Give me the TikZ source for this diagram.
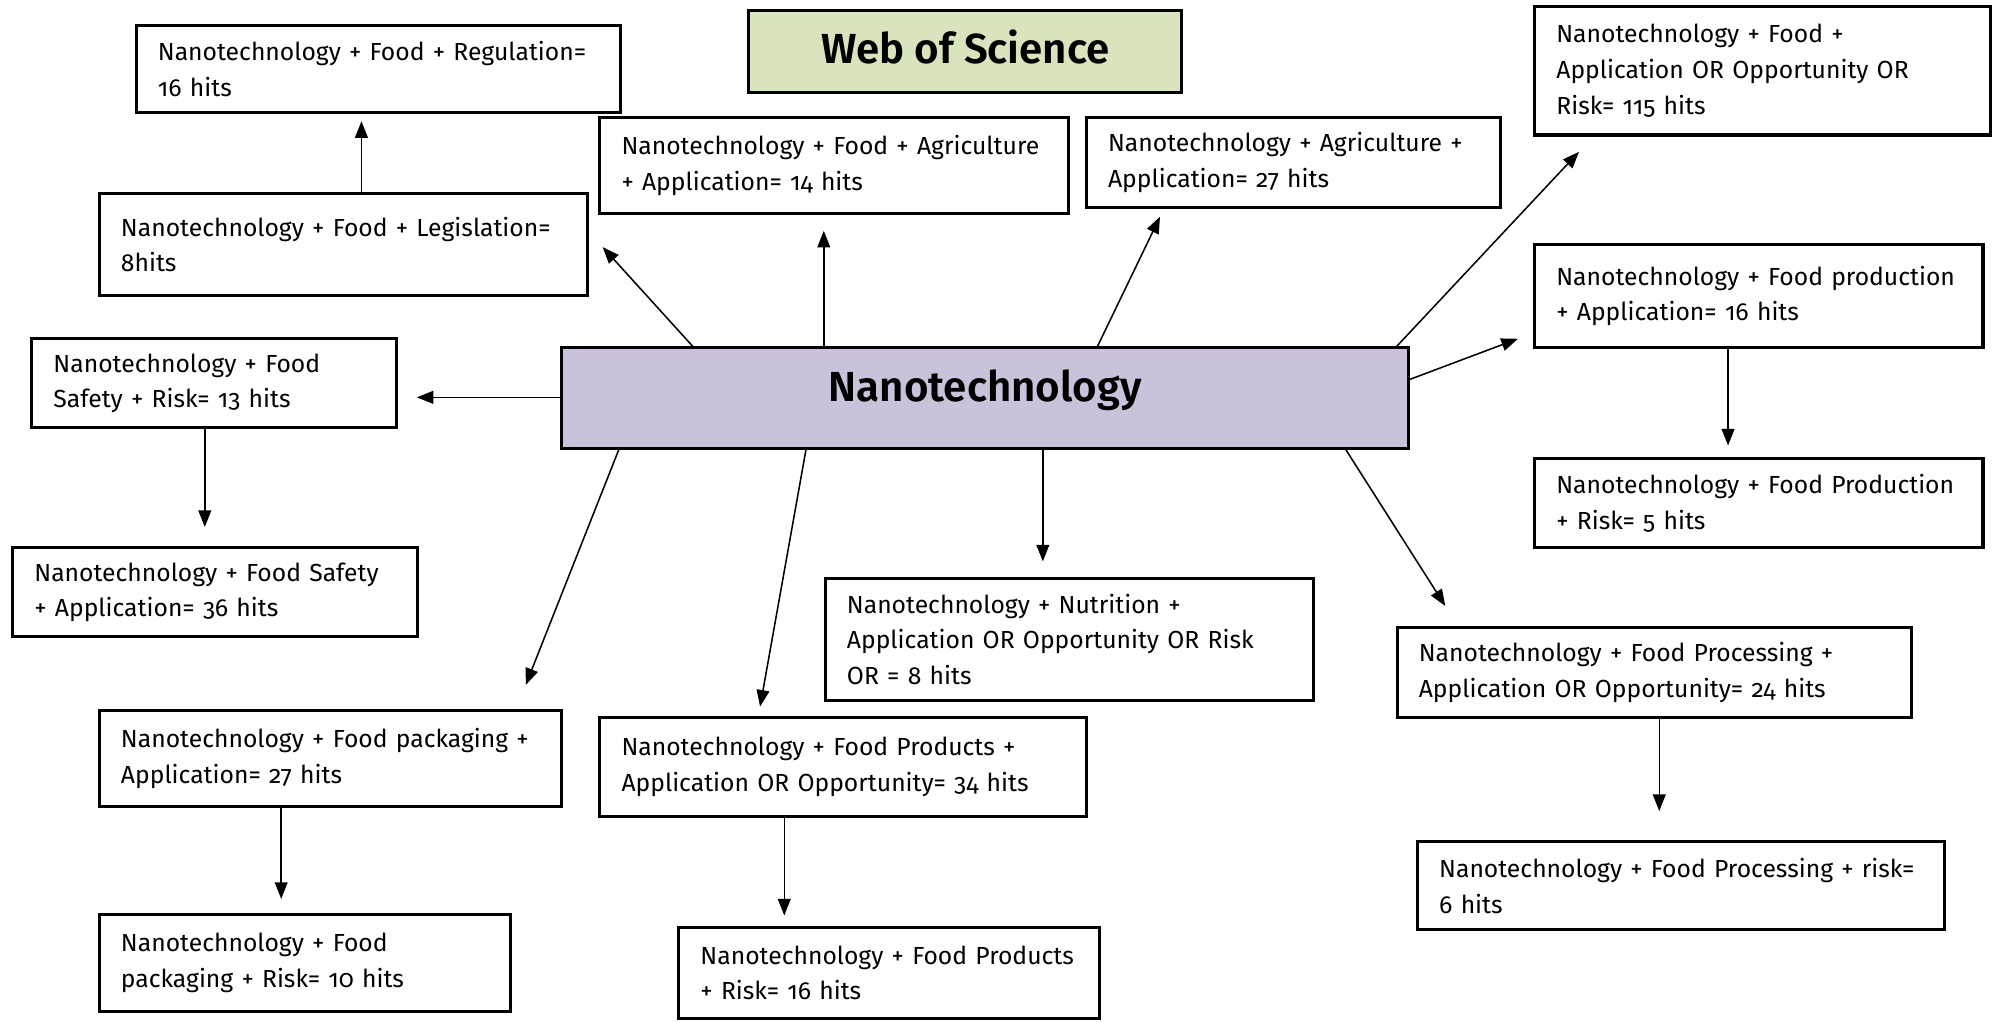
\documentclass[tikz,border=0pt]{standalone}
\usepackage{fontspec}
\setmainfont{Fira Sans}[Numbers=OldStyle]
\newfontfamily\titlefont{Fira Sans SemiBold}
\usetikzlibrary{arrows.meta,calc}
\definecolor{wosgreen}{RGB}{215,228,189}
\definecolor{nanopurple}{RGB}{204,193,218}

% a search-result box: name, x1, y1, x2, y2, text
\newcommand\hitbox[6]{%
  \pgfmathsetmacro\hbh{#5-#3}%
  \pgfmathsetmacro\hbt{#4-#2-34}%
  \node[box, text width=\hbt pt, minimum height=\hbh pt] (#1)
    at ({(#2+#4)/2},{(#3+#5)/2}) {#6};}

\begin{document}
\begin{tikzpicture}[x=1pt,y=-1pt,
  box/.style={draw=black, line width=2.4pt, fill=white, align=left,
    inner xsep=17pt, inner ysep=0pt, font=\fontsize{19.4}{28}\selectfont},
  titlebox/.style={draw=black, line width=2.4pt, inner sep=0pt,
    font=\fontsize{33}{36}\titlefont},
  arr/.style={-{Triangle[length=13pt,width=10pt]}, line width=1.2pt}]
\useasboundingbox (0,0) rectangle (1568,802);

% headings (baseline placed a fixed distance below the box centre)
\node[titlebox, fill=wosgreen, minimum width=340pt, minimum height=65pt]
  (wos) at (758,40.5) {\raisebox{-9pt}[0pt][0pt]{Web of Science}};
\node[titlebox, fill=nanopurple, minimum width=665pt, minimum height=79pt]
  (nano) at (773.5,312.5) {\raisebox{-3pt}[0pt][0pt]{Nanotechnology}};

% result boxes
\hitbox{reg}{107}{20}{487}{88}{Nanotechnology + Food + Regulation=\\16 hits}
\hitbox{leg}{78}{152}{461}{232}{Nanotechnology + Food + Legislation=\\8hits}
\hitbox{agri1}{471}{92}{839}{168}{Nanotechnology + Food + Agriculture\\+ Application= 14 hits}
\hitbox{agri2}{853}{92}{1178}{163}{Nanotechnology + Agriculture +\\Application= 27 hits}
\hitbox{app}{1205}{5}{1563}{106}{Nanotechnology + Food +\\Application OR Opportunity OR\\Risk= 115 hits}
\hitbox{prod}{1205}{192}{1557}{273}{Nanotechnology + Food production\\+ Application= 16 hits}
\hitbox{prodrisk}{1205}{360}{1557}{430}{Nanotechnology + Food Production\\+ Risk= 5 hits}
\hitbox{safrisk}{25}{266}{311}{336}{Nanotechnology + Food\\Safety + Risk= 13 hits}
\hitbox{safapp}{10}{430}{328}{500}{Nanotechnology + Food Safety\\+ Application= 36 hits}
\hitbox{nutr}{648}{454}{1031}{550}{Nanotechnology + Nutrition +\\Application OR Opportunity OR Risk\\OR = 8 hits}
\hitbox{proc}{1097}{493}{1501}{563}{Nanotechnology + Food Processing +\\Application OR Opportunity= 24 hits}
\hitbox{procrisk}{1113}{661}{1527}{730}{Nanotechnology + Food Processing + risk=\\6 hits}
\hitbox{pack}{78}{558}{441}{633}{Nanotechnology + Food packaging +\\Application= 27 hits}
\hitbox{packrisk}{78}{718}{401}{794}{Nanotechnology + Food\\packaging + Risk= 10 hits}
\hitbox{prods}{471}{563}{853}{641}{Nanotechnology + Food Products +\\Application OR Opportunity= 34 hits}
\hitbox{prodsrisk}{533}{728}{863}{800}{Nanotechnology + Food Products\\+ Risk= 16 hits}

% connectors from the central node
\draw[arr] ($(nano.north west)+(104,0)$) -- ($(leg.east)+(11,2)$);
\draw[arr] ($(nano.north west)+(207,0)$) -- ($(agri1.south west)+(177,12)$);
\draw[arr] ($(nano.north west)+(422,0)$) -- ($(agri2.south west)+(59,6)$);
\draw[arr] ($(nano.north west)+(657,0)$) -- ($(app.south west)+(36,12)$);
\draw[arr] ($(nano.north east)+(0,26)$) -- ($(prod.west)+(-12,33.5)$);
\draw[arr] ($(nano.west)+(0,-0.5)$) -- ($(nano.west -| safrisk.east)+(15,-0.5)$);
\draw[arr] ($(nano.south west)+(46,0)$) -- ($(pack.north west)+(336,-19)$);
\draw[arr] ($(nano.south west)+(193,0)$) -- ($(prods.north west)+(127,-7)$);
\draw[arr] ($(nano.south west)+(379,0)$) -- ($(nutr.north west)+(172,-12)$);
\draw[arr] ($(nano.south west)+(617,0)$) -- ($(proc.north west)+(39,-16)$);

% follow-up searches
\draw[arr] ($(leg.north west)+(207,0)$) -- ($(reg.south west)+(178,6)$);
\draw[arr] ($(safrisk.south west)+(137,0)$) -- ($(safapp.north west)+(152,-15)$);
\draw[arr] ($(prod.south west)+(153,0)$) -- ($(prodrisk.north west)+(153,-9)$);
\draw[arr] ($(proc.south west)+(207,0)$) -- ($(procrisk.north west)+(191,-23)$);
\draw[arr] ($(pack.south west)+(144,0)$) -- ($(packrisk.north west)+(144,-11)$);
\draw[arr] ($(prods.south west)+(146,0)$) -- ($(prodsrisk.north west)+(84,-8)$);
\end{tikzpicture}
\end{document}
